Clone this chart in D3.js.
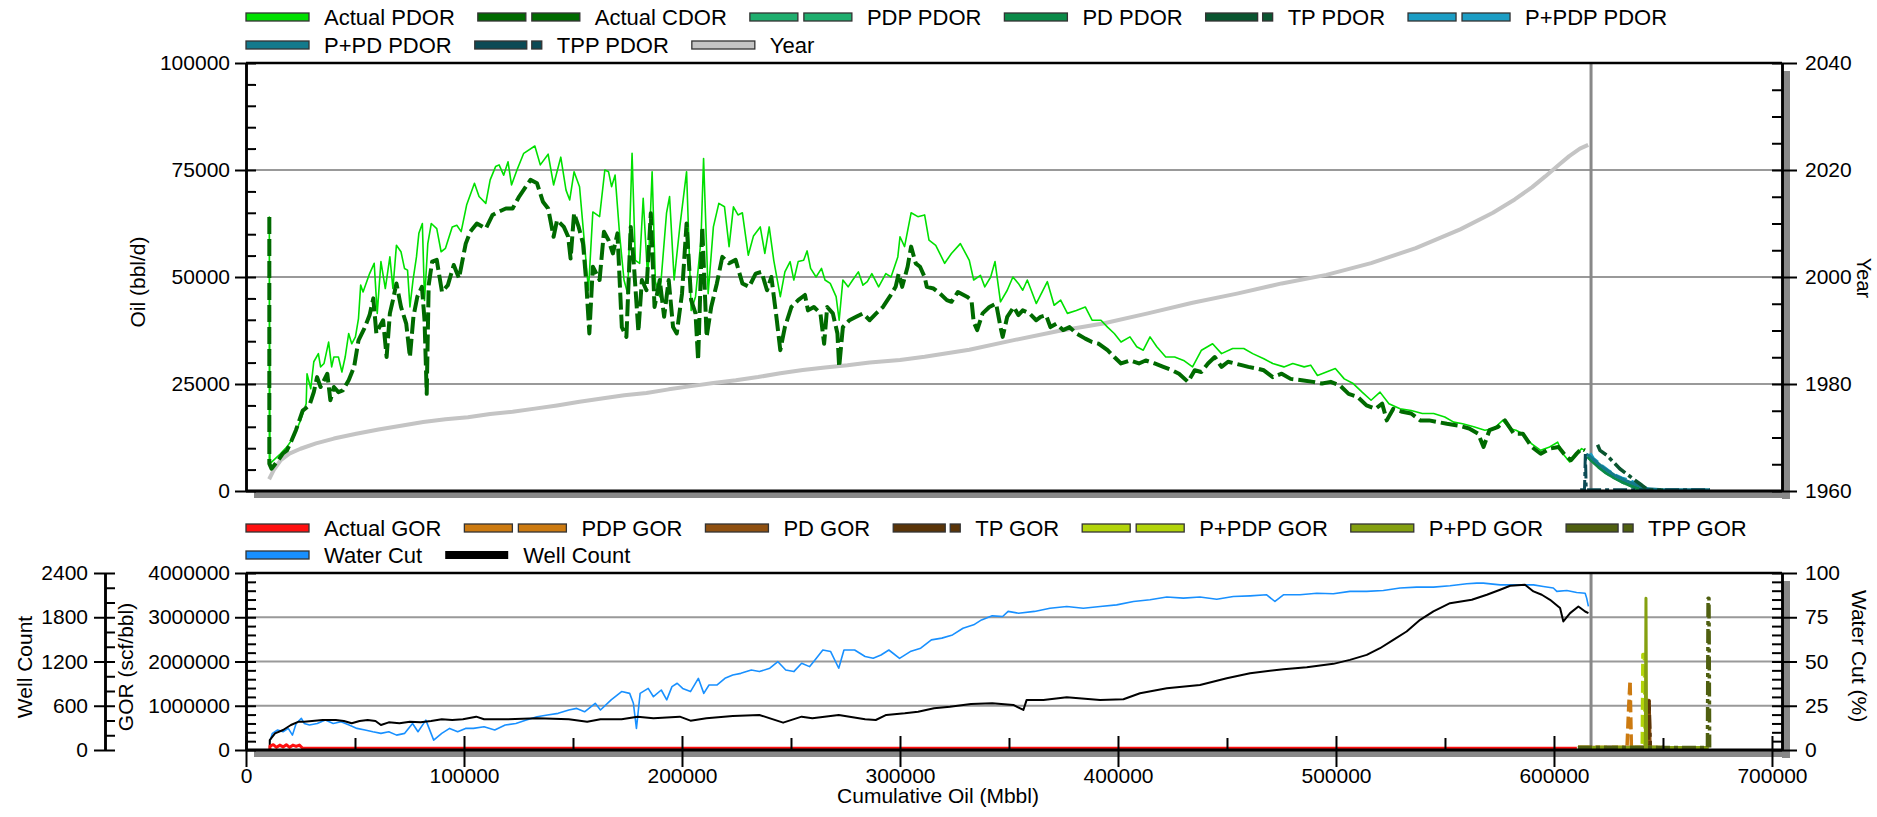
<!DOCTYPE html>
<html>
<head>
<meta charset="utf-8">
<script src="https://cdn.jsdelivr.net/npm/d3@7"></script>
<style>
body { margin: 0; background: #fff; }
svg text { font-family: "Liberation Sans", Arial, sans-serif; fill: #000; }
</style>
</head>
<body>
<svg id="chart" width="1877" height="817"></svg>
<script>
// cumulative oil (Mbbl) vs value
var actualPdor = [[10700,6400],[10700,64000],[11000,6400],[12700,7200],[15800,8700],[18800,10300],[21900,12600],[25000,16500],[27600,20400],[28000,27400],[29700,23900],[31100,30200],[33200,32100],[34200,29000],[35800,29800],[37900,34800],[39300,29000],[40300,31300],[42400,31300],[44000,27800],[45500,31300],[47100,36800],[48500,34400],[50200,36000],[51600,40300],[52600,48100],[53700,46500],[56700,50800],[58800,53200],[60200,41500],[61900,53600],[63900,47300],[66000,54700],[67400,47300],[69000,57400],[71100,55900],[72700,52000],[74100,51600],[75200,43000],[76600,49200],[78200,54700],[79300,60200],[80900,62500],[81900,44500],[83400,57800],[85000,62500],[87500,61300],[89500,55900],[91500,56700],[94600,61700],[96700,62100],[98700,60600],[101200,66800],[104800,71900],[106900,68800],[110000,67200],[112000,72700],[114500,75800],[116100,76200],[118200,73800],[120200,76900],[121800,71500],[124300,75000],[127400,78900],[132500,80600],[135000,76200],[138600,78700],[141100,71500],[144400,78000],[146800,70300],[148500,68000],[150500,74600],[153000,71100],[155400,57100],[157100,46900],[159100,65200],[162200,64100],[164600,75000],[166300,74600],[167700,71100],[169300,73800],[171400,59800],[173400,49300],[175100,46100],[177100,78900],[178600,53900],[180600,53200],[182200,68400],[184300,49300],[186300,74600],[187800,48900],[189800,45400],[192900,64900],[194300,68800],[196400,49300],[199000,61700],[202100,74600],[204200,42200],[206200,45400],[208700,58600],[209900,77700],[212000,46100],[214400,61700],[216900,67200],[219500,66400],[221600,57100],[223600,66400],[225700,64500],[227700,65000],[230400,55100],[232800,59600],[235900,61700],[238000,55500],[240000,61700],[242100,53900],[245100,45400],[247200,51200],[249600,53600],[251300,49300],[253300,53600],[255800,53900],[257400,56100],[259000,52000],[261500,50000],[264000,52000],[265600,49300],[268000,48500],[270700,45400],[272100,39900],[273800,49300],[276200,47700],[278300,49300],[280900,51200],[283000,48100],[285000,48900],[287100,50800],[290200,47700],[293500,50800],[295900,50000],[299000,54700],[300000,59400],[302100,57100],[305100,65000],[308200,64100],[311300,64500],[313300,58600],[316400,57400],[320500,53200],[323600,55500],[327700,57800],[331800,53900],[333800,49300],[336900,50400],[338900,47700],[341600,50000],[343600,53600],[346100,44200],[349200,46900],[351800,50000],[354300,48500],[356300,46900],[358400,49300],[362500,43800],[367600,48900],[370700,43400],[373700,44600],[376800,41500],[380900,42200],[385000,43000],[388100,39900],[392200,39900],[395200,38300],[398300,36800],[401400,34800],[405500,36000],[408600,33700],[411600,32900],[414700,36000],[417800,33700],[421900,31300],[426000,31300],[430100,30500],[434200,29000],[438300,32900],[443400,34400],[447500,32100],[452600,33300],[457700,33300],[461800,32100],[466900,30900],[471000,29800],[476100,29000],[480200,29800],[485400,29000],[488400,29400],[491500,27000],[495600,27800],[499700,28600],[503800,26200],[507900,25100],[512000,23100],[516100,21200],[520200,23100],[524300,20400],[529400,19200],[534500,18800],[539600,18100],[544800,18100],[549900,17300],[554000,16100],[558100,15700],[563200,15000],[568300,14200],[572400,14600],[576500,16500],[579600,14600],[582600,14200],[585700,13400],[589800,11000],[593900,9500],[598000,10300],[601700,11400],[604100,8700],[607200,6800],[610000,8500],[612700,9900],[614200,9500]];

var actualCdor = [[10700,64000],[10700,6400],[11700,5200],[14800,7200],[16800,8700],[18800,9500],[20900,11800],[22900,14200],[26000,18800],[29100,20000],[31100,23100],[32600,26600],[34200,24300],[37300,27400],[38700,21200],[40300,24300],[42400,23100],[44400,23500],[47100,25900],[49600,29000],[51600,35200],[54300,38000],[56700,41100],[58400,45000],[59800,36800],[61200,38300],[62900,39900],[64500,31300],[66000,41500],[67400,44600],[69000,48500],[71100,43000],[73500,39100],[75200,31300],[76800,40700],[78600,45400],[80700,47700],[81900,39900],[82900,22700],[83800,48100],[85400,53600],[87500,54000],[89900,46500],[92600,48100],[95300,52800],[97700,49700],[100800,57800],[102900,60600],[105900,62500],[110000,61300],[113100,64500],[116100,65300],[119200,66000],[122300,66000],[125300,68800],[130500,72700],[133500,71900],[136200,67600],[138600,66000],[141100,59400],[142700,63300],[145800,61700],[147800,59400],[148900,54300],[150500,64900],[152600,61700],[154600,57800],[156000,49300],[157500,36800],[159100,52400],[162200,49300],[164200,60600],[166300,58600],[168300,55500],[170400,60200],[172400,38300],[174500,36000],[176500,61700],[178000,52400],[180000,37200],[181600,49300],[183700,46900],[185700,64900],[187400,43000],[189800,49300],[191800,40700],[193900,49300],[195900,38300],[197600,36800],[200000,46100],[202100,62500],[204200,44600],[206200,41500],[207400,30600],[209300,61700],[211300,36000],[213400,43000],[216000,48500],[218500,54700],[221600,53200],[224600,54000],[227700,48500],[230800,47700],[233800,50800],[236500,51200],[239000,46900],[241000,50000],[243500,39900],[245100,32900],[247200,38300],[250200,43000],[253300,44600],[256400,45800],[257800,42200],[260500,43000],[263500,41500],[265200,34400],[266600,43000],[269200,41500],[271300,36800],[272100,29000],[273800,38300],[276800,39900],[279900,40700],[283000,41500],[286100,39900],[289100,41500],[292200,43000],[295300,45400],[298000,47700],[299400,50800],[301000,47700],[303500,52400],[305100,57100],[307200,53200],[309200,52400],[311300,50000],[312300,47700],[315400,47300],[318400,46100],[321500,44600],[323600,44200],[326600,46500],[330700,45400],[332800,44600],[333800,39500],[335400,37600],[337900,41500],[341000,43000],[344100,43800],[346100,38300],[347100,36000],[349200,40700],[352200,43000],[354300,41100],[356300,42200],[359400,41500],[362500,39900],[364500,40700],[367000,41100],[369000,38300],[371700,39100],[374800,37600],[377800,38300],[380900,36800],[385000,35600],[388100,34800],[391200,34400],[395200,32900],[398300,31300],[401400,29800],[405500,30500],[409600,29800],[412700,30500],[416800,29800],[420800,29000],[424900,28200],[428000,27400],[432100,25500],[435200,28200],[438200,27800],[441300,29800],[444400,31300],[447500,29000],[450500,30200],[453600,29800],[456700,29400],[459800,29000],[463900,28600],[466900,28200],[471000,26600],[475100,27400],[479200,26200],[484300,25900],[489500,25500],[493600,25100],[497600,25500],[501700,24700],[505800,22700],[509900,22000],[514000,20000],[518100,19200],[521200,20400],[523300,16500],[526300,19200],[530400,18500],[534500,18100],[538600,16500],[542700,16500],[546800,16100],[550900,15700],[556000,15300],[561100,14600],[565200,13400],[567700,10300],[570400,14200],[574400,15000],[577500,16500],[581600,13400],[585700,13400],[589800,10300],[593900,8700],[598000,9900],[602100,10300],[605200,8300],[607800,7200],[610500,8800],[612700,9900],[614200,9500]];

var pdpPdor = [[615500,8200],[617200,7200],[620000,6000],[622600,4900],[625500,3800],[628700,2900],[631500,2100],[634800,1400],[637000,800],[639400,300],[642000,200]];
var pdPdor = [[615500,8000],[617500,7000],[620500,5600],[623500,4400],[627000,3300],[631000,2200],[635000,1300],[639000,500],[642000,200]];
var tpPdor = [[620000,10800],[621100,9500],[624100,8400],[627200,6800],[630200,5200],[634100,3700],[637100,2500],[640200,1400],[643200,200],[650000,200]];
var ppdpPdor = [[616500,8800],[618000,7600],[620300,6600],[622600,5600],[625300,4600],[628000,3700],[631000,3000],[634100,2500],[637000,1900],[639400,1400],[641500,700],[643200,300],[646000,200]];
var ppdPdor = [[614800,8600],[616000,8300],[619000,7000],[623000,5300],[628000,3600],[633000,2400],[638000,1400],[643000,500],[650000,300],[671500,300]];
var tppPdor = [[612000,300],[614000,300],[614400,8800],[614800,300],[640000,300],[671500,300]];

var yearLine = [[10600,1962.2],[12700,1963.9],[15800,1965.7],[19900,1967.0],[25000,1967.9],[32100,1968.9],[40300,1969.8],[50600,1970.7],[60800,1971.5],[71100,1972.2],[81300,1972.9],[91500,1973.4],[101800,1973.8],[112000,1974.4],[122300,1974.8],[132500,1975.4],[142700,1976.0],[153000,1976.7],[163200,1977.3],[173500,1977.9],[183700,1978.3],[193900,1979.0],[204200,1979.6],[214400,1980.2],[224700,1980.7],[234900,1981.3],[245100,1982.0],[255400,1982.6],[265600,1983.1],[275900,1983.5],[286100,1984.0],[300000,1984.5],[311300,1985.1],[331800,1986.4],[352200,1988.2],[372700,1989.9],[393200,1991.3],[413700,1993.2],[434200,1995.2],[454600,1996.9],[475100,1998.8],[495600,2000.4],[516100,2002.6],[536600,2005.4],[557000,2008.9],[572000,2012.0],[582000,2014.5],[590000,2016.8],[596000,2018.8],[602000,2020.9],[607000,2022.6],[611900,2024.0],[615700,2024.7]];

var actualGor = [[11000,0],[11000,90000],[12500,120000],[14000,60000],[15500,110000],[17000,70000],[18500,120000],[20000,60000],[21500,110000],[23000,80000],[24500,110000],[26000,40000],[100000,40000],[200000,38000],[300000,40000],[400000,42000],[500000,40000],[610500,40000]];
var pdpGor = [[611000,55000],[633500,55000],[634300,1000000],[634900,1570000],[635500,55000],[645000,55000]];
var pdGor = [[611000,55000],[642600,55000],[643000,1120000],[643600,1120000],[644000,55000],[650000,55000]];
var tpGor = [[611000,55000],[643200,55000],[643600,1100000],[644200,55000],[650000,55000]];
var ppdpGor = [[611000,55000],[640500,55000],[640800,2160000],[641500,2160000],[641800,55000],[650000,55000]];
var ppdGor = [[611000,55000],[641900,55000],[642200,3430000],[642500,55000],[671000,55000]];
var tppGor = [[611000,55000],[670400,55000],[670700,3430000],[671100,3430000],[671400,55000]];

var waterCut = [[10900,4.7],[12100,9.4],[14500,11.3],[17000,10.3],[19400,12.2],[21300,8.4],[23000,15.0],[25400,17.9],[26700,15.0],[29100,14.1],[32700,15.0],[36400,16.9],[40000,15.0],[43600,16.0],[47300,14.1],[50900,12.2],[54600,11.3],[58200,10.3],[61900,9.4],[65500,10.3],[69100,8.4],[72800,9.4],[76400,15.0],[78900,10.3],[82500,16.9],[86100,5.6],[89800,9.4],[93400,12.2],[97100,10.3],[100700,12.2],[104300,12.2],[109200,13.1],[114100,11.3],[118900,14.1],[123800,15.0],[128600,16.9],[133500,18.8],[138300,19.8],[143200,20.7],[148100,22.6],[151700,23.5],[155300,21.6],[160200,26.4],[162600,22.6],[167500,28.3],[172300,33.0],[176000,32.0],[177700,26.4],[179100,12.2],[180800,32.0],[184500,34.8],[186900,30.1],[190500,33.9],[193000,28.3],[195400,35.8],[197800,37.7],[200300,34.8],[203900,33.0],[207500,40.5],[210000,32.0],[212400,36.7],[216000,36.7],[219700,40.5],[223300,42.4],[227000,43.3],[231800,45.2],[235500,44.3],[240300,46.2],[244000,49.9],[247600,45.2],[251300,44.3],[254900,49.0],[258500,47.1],[261000,50.9],[264600,56.5],[268200,55.6],[271900,46.2],[274300,56.5],[279200,56.5],[284000,52.8],[287700,51.8],[291300,53.7],[294900,56.5],[299800,51.8],[304700,55.6],[309500,57.5],[314400,62.2],[319200,63.2],[324100,65.0],[328900,68.8],[333800,70.7],[337400,73.5],[342300,75.8],[347100,75.4],[349600,78.3],[354400,77.3],[361700,78.3],[368800,80.1],[376500,81.1],[384100,80.1],[391800,81.1],[399400,82.0],[407100,83.9],[414700,84.9],[422400,86.4],[430000,85.8],[437600,86.4],[445300,85.2],[452900,86.7],[460600,87.1],[468200,87.7],[472000,83.9],[475900,87.7],[483500,87.7],[491200,88.6],[498800,88.3],[506400,89.6],[514100,89.6],[521700,90.1],[529400,91.5],[537000,92.0],[544700,92.0],[552300,92.8],[560000,93.9],[564600,94.3],[567600,94.3],[575300,93.3],[582900,93.3],[590600,93.3],[595100,92.4],[599700,91.5],[601300,89.6],[605900,90.1],[610400,89.0],[614300,88.6],[615000,85.8],[615800,81.1]];

var wellCount = [[10900,0],[10900,135],[13300,226],[17000,271],[20600,339],[24200,384],[26700,384],[30300,393],[35200,407],[41200,407],[44900,393],[48500,362],[52100,393],[55800,407],[59400,393],[61900,339],[65500,375],[70400,362],[75200,384],[80100,375],[84900,393],[89800,416],[94600,407],[99500,416],[105600,452],[109200,416],[118900,416],[133500,430],[148100,416],[156500,384],[162600,416],[172300,416],[179600,452],[186900,430],[199000,452],[203900,398],[211200,430],[223300,461],[235500,475],[246400,371],[254900,452],[259800,430],[271900,475],[284000,416],[288900,407],[293700,475],[302200,498],[308300,520],[315600,566],[322900,588],[332600,624],[342300,633],[352000,611],[356600,543],[358100,679],[365800,679],[376500,715],[391800,679],[402500,688],[410100,769],[422400,837],[437600,882],[449900,973],[460600,1041],[475900,1095],[486600,1122],[498800,1168],[506400,1222],[514100,1290],[520200,1380],[526300,1494],[532400,1607],[538600,1765],[544700,1880],[552300,1991],[562300,2037],[569200,2105],[575300,2173],[579900,2227],[586700,2240],[590600,2150],[594400,2105],[598200,2037],[602800,1924],[604300,1743],[607400,1856],[611200,1946],[614300,1878],[615800,1856]];

var forecastStart = 617000;

var oilTicks = [0, 25000, 50000, 75000, 100000];
var yearTicks = [1960, 1980, 2000, 2020, 2040];
var gorTicks = [0, 1000000, 2000000, 3000000, 4000000];
var wellTicks = [0, 600, 1200, 1800, 2400];
var wcTicks = [0, 25, 50, 75, 100];
var cumTicks = [0, 100000, 200000, 300000, 400000, 500000, 600000, 700000];

var svg = d3.select('svg#chart');

var left = 246, right = 1782;
var topY0 = 63, topY1 = 491;
var botY0 = 573, botY1 = 750;

var x = d3.scaleLinear().domain([0, 704600]).range([left, right]);
var yOil = d3.scaleLinear().domain([0, 100000]).range([topY1, topY0]);
var yYear = d3.scaleLinear().domain([1960, 2040]).range([topY1, topY0]);
var yGor = d3.scaleLinear().domain([0, 4000000]).range([botY1, botY0]);
var yWc = d3.scaleLinear().domain([0, 100]).range([botY1, botY0]);
var yWell = d3.scaleLinear().domain([0, 2400]).range([botY1, botY0]);

var topSeries = [
  {name: 'Actual PDOR', data: actualPdor, color: '#00e000', width: 1.6, dash: null, type: 'solid'},
  {name: 'Actual CDOR', data: actualCdor, color: '#006a00', width: 4, dash: '17,5', type: 'dash'},
  {name: 'PDP PDOR', data: pdpPdor, color: '#1fae6e', width: 3.5, dash: '12,5', type: 'dash'},
  {name: 'PD PDOR', data: pdPdor, color: '#0b8a48', width: 3.5, dash: null, type: 'solid'},
  {name: 'TP PDOR', data: tpPdor, color: '#0a5530', width: 3.5, dash: '14,4,4,4', type: 'dashdot'},
  {name: 'P+PDP PDOR', data: ppdpPdor, color: '#1c9dc4', width: 3.5, dash: '12,5', type: 'dash'},
  {name: 'P+PD PDOR', data: ppdPdor, color: '#137a8c', width: 3, dash: null, type: 'solid'},
  {name: 'TPP PDOR', data: tppPdor, color: '#0b4a55', width: 3, dash: '14,4,4,4', type: 'dashdot'},
  {name: 'Year', data: yearLine, color: '#c4c4c4', width: 4, dash: null, type: 'solid', scale: yYear}
];

var botSeries = [
  {name: 'Actual GOR', data: actualGor, color: '#ff1010', width: 3, dash: null, type: 'solid'},
  {name: 'PDP GOR', data: pdpGor, color: '#cc7a10', width: 3.5, dash: '12,5', type: 'dash'},
  {name: 'PD GOR', data: pdGor, color: '#8f5010', width: 3.5, dash: null, type: 'solid'},
  {name: 'TP GOR', data: tpGor, color: '#5a3408', width: 3.5, dash: '14,4,4,4', type: 'dashdot'},
  {name: 'P+PDP GOR', data: ppdpGor, color: '#b2d40a', width: 3.5, dash: '12,5', type: 'dash'},
  {name: 'P+PD GOR', data: ppdGor, color: '#84a010', width: 3, dash: null, type: 'solid'},
  {name: 'TPP GOR', data: tppGor, color: '#4f5f10', width: 3.5, dash: '14,4,4,4', type: 'dashdot'},
  {name: 'Water Cut', data: waterCut, color: '#1890ff', width: 1.6, dash: null, type: 'solid', scale: yWc},
  {name: 'Well Count', data: wellCount, color: '#000000', width: 2, dash: null, type: 'bar', scale: yWell}
];

// shadows behind the frames
function shadow(y0, y1) {
  svg.append('rect').attr('x', left + 8).attr('y', y1).attr('width', right - left).attr('height', 7).style('fill', '#888');
  svg.append('rect').attr('x', right).attr('y', y0 + 8).attr('width', 8).attr('height', y1 - y0).style('fill', '#888');
}
shadow(topY0, topY1);
shadow(botY0, botY1);
svg.append('rect').attr('x', left).attr('y', topY0).attr('width', right - left).attr('height', topY1 - topY0).style('fill', '#fff');
svg.append('rect').attr('x', left).attr('y', botY0).attr('width', right - left).attr('height', botY1 - botY0).style('fill', '#fff');

// gridlines
function grid(vals, scale) {
  svg.append('g').selectAll('line').data(vals).enter().append('line')
    .attr('x1', left).attr('x2', right)
    .attr('y1', function(d) {return scale(d);})
    .attr('y2', function(d) {return scale(d);})
    .style('stroke', '#999').style('stroke-width', 2);
}
grid([25000, 50000, 75000], yOil);
grid([1000000, 2000000, 3000000], yGor);

// forecast start marker
[[topY0, topY1], [botY0, botY1]].forEach(function(p) {
  svg.append('line').attr('x1', x(forecastStart)).attr('x2', x(forecastStart))
    .attr('y1', p[0]).attr('y2', p[1])
    .style('stroke', '#888').style('stroke-width', 3);
});

function drawSeries(list, defScale, order) {
  order.forEach(function(i) {
    var s = list[i];
    var sc = s.scale || defScale;
    var line = d3.line().x(function(d) {return x(d[0]);}).y(function(d) {return sc(d[1]);});
    svg.append('path').datum(s.data).attr('d', line)
      .style('fill', 'none').style('stroke', s.color).style('stroke-width', s.width)
      .style('stroke-linejoin', 'round')
      .style('stroke-dasharray', s.dash);
  });
}
drawSeries(topSeries, yOil, [8, 0, 1, 2, 3, 5, 6, 7, 4]);
drawSeries(botSeries, yGor, [7, 8, 0, 1, 2, 3, 4, 5, 6]);

// frames
function frame(y0, y1) {
  svg.append('line').attr('x1', left).attr('x2', right).attr('y1', y0).attr('y2', y0).style('stroke', '#000').style('stroke-width', 2.5);
  svg.append('line').attr('x1', left).attr('x2', right).attr('y1', y1).attr('y2', y1).style('stroke', '#000').style('stroke-width', 3);
}
frame(topY0, topY1);
frame(botY0, botY1);

function styleAxis(g) {
  g.select('.domain').style('stroke', '#000').style('stroke-width', 2.5);
  g.selectAll('.tick line').style('stroke', '#000').style('stroke-width', 2);
  g.selectAll('text').style('font-size', '21px').style('font-family', '"Liberation Sans", Arial, sans-serif');
}

function axisPair(scale, xpos, major, minor, side) {
  var a = side === 'left' ? d3.axisLeft(scale) : d3.axisRight(scale);
  var m = side === 'left' ? d3.axisRight(scale) : d3.axisLeft(scale);
  svg.append('g').attr('transform', 'translate(' + xpos + ',0)')
    .call(m.tickValues(minor).tickSize(10).tickSizeOuter(0).tickFormat(''))
    .call(styleAxis);
  svg.append('g').attr('transform', 'translate(' + xpos + ',0)')
    .call(a.tickValues(major).tickSize(side === 'left' ? 11 : 15).tickSizeOuter(0)
      .tickPadding(side === 'left' ? 5 : 8).tickFormat(d3.format('d')))
    .call(styleAxis);
}

axisPair(yOil, left, oilTicks, d3.range(0, 100001, 5000), 'left');
axisPair(yYear, right, yearTicks, d3.range(1960, 2041, 5), 'right');
axisPair(yGor, left, gorTicks, d3.range(0, 4000001, 200000), 'left');
axisPair(yWc, right, wcTicks, d3.range(0, 101, 5), 'right');

// well count axis, off to the left
svg.append('g').attr('transform', 'translate(105,0)')
  .call(d3.axisRight(yWell).tickValues(d3.range(0, 2401, 200)).tickSize(10).tickSizeOuter(0).tickFormat(''))
  .call(styleAxis);
svg.append('g').attr('transform', 'translate(105,0)')
  .call(d3.axisLeft(yWell).tickValues(wellTicks).tickSize(11).tickSizeOuter(0).tickPadding(6).tickFormat(d3.format('d')))
  .call(styleAxis);

// cumulative oil axis
svg.append('g').attr('transform', 'translate(0,' + botY1 + ')')
  .call(d3.axisTop(x).tickValues(d3.range(50000, 700000, 100000)).tickSize(12).tickSizeOuter(0).tickFormat(''))
  .call(styleAxis).select('.domain').remove();
svg.append('g').attr('transform', 'translate(0,' + botY1 + ')')
  .call(d3.axisTop(x).tickValues(cumTicks).tickSize(14).tickSizeOuter(0).tickFormat(''))
  .call(styleAxis).select('.domain').remove();
svg.append('g').attr('transform', 'translate(0,' + botY1 + ')')
  .call(d3.axisBottom(x).tickValues(cumTicks).tickSize(17).tickSizeOuter(0).tickPadding(1).tickFormat(d3.format('d')))
  .call(styleAxis).select('.domain').remove();

// axis titles
function title(txt, tx, ty, rot, size) {
  svg.append('text').attr('transform', 'translate(' + tx + ',' + ty + ') rotate(' + rot + ')')
    .attr('text-anchor', 'middle').style('font-size', (size || 21) + 'px').text(txt);
}
title('Oil (bbl/d)', 145, 282, -90);
title('Year', 1857, 278, 90, 20);
title('GOR (scf/bbl)', 133, 667, -90);
title('Well Count', 32, 667, -90);
title('Water Cut (%)', 1852, 656, 90);
title('Cumulative Oil (Mbbl)', 938, 803, 0);

// legends
function swatch(g, s, sx, cy) {
  var h = 8;
  function box(bx, w) {
    g.append('rect').attr('x', bx).attr('y', cy - h / 2).attr('width', w).attr('height', h)
      .style('fill', s.color).style('stroke', '#333').style('stroke-width', 1.3);
  }
  if (s.type === 'dash') { box(sx, 48); box(sx + 54, 48); return 102; }
  if (s.type === 'dashdot') { box(sx, 52); box(sx + 57, 10); return 67; }
  if (s.type === 'bar') {
    g.append('rect').attr('x', sx).attr('y', cy - h / 2).attr('width', 63).attr('height', h).style('fill', s.color);
    return 63;
  }
  box(sx, 63);
  return 63;
}

function legendRow(items, cy) {
  var cx = left;
  items.forEach(function(s) {
    var g = svg.append('g');
    var w = swatch(g, s, cx, cy);
    var t = g.append('text').attr('x', cx + w + 15).attr('y', cy + 8).style('font-size', '22px').text(s.name);
    cx = cx + w + 15 + t.node().getComputedTextLength() + 23;
  });
}
legendRow(topSeries.slice(0, 6), 17);
legendRow(topSeries.slice(6), 45);
legendRow(botSeries.slice(0, 7), 528);
legendRow(botSeries.slice(7), 555);
</script>
</body>
</html>
